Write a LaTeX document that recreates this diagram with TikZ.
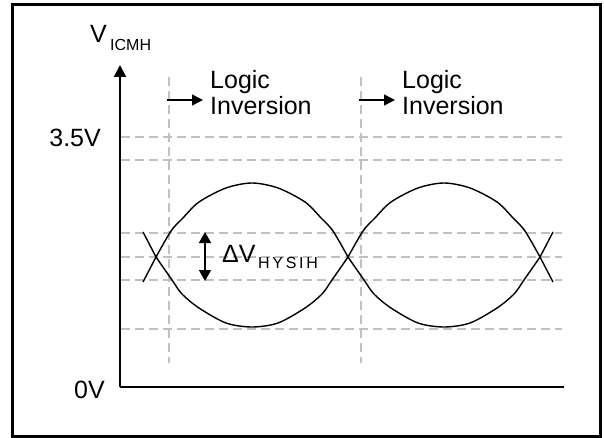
\documentclass[tikz,border=0pt]{standalone}
\usepackage{fontspec}
\setmainfont{Liberation Sans}
\usetikzlibrary{arrows.meta}
\definecolor{gridgray}{RGB}{192,192,192}
\begin{document}
\begin{tikzpicture}[x=1pt,y=-1pt,
  gridline/.style={gridgray, line width=1.6pt, dash pattern=on 9pt off 5pt},
  axisline/.style={line width=2pt},
  eyeline/.style={line width=1.4pt, line join=round},
  arr/.style={line width=1.5pt},
  lbl/.style={font=\fontsize{25}{26}\selectfont, inner sep=0pt},
  sub/.style={font=\fontsize{16}{16}\selectfont, inner sep=0pt},
]
\useasboundingbox (0,0) rectangle (604,438);
\draw[line width=3pt] (12,4.5) rectangle (600.5,436.5);

% grid
\foreach \y in {137,160,233,257,280,329} \draw[gridline] (121,\y) -- (562,\y);
\foreach \x in {169,361} \draw[gridline] (\x,77) -- (\x,363);

% axes
\coordinate (O) at (120,387);
\coordinate (ytop) at (120,65);
\coordinate (xend) at (564,387);
\draw[axisline,-{Triangle[length=12pt,width=12pt]}] (O) -- (ytop);
\draw[axisline] (O) -- (xend);

% axis labels
\node[lbl, anchor=base west] (vlab) at (90,43) {V};
\node[sub, anchor=base west] (vsub) at (110,51) {ICMH};
\node[lbl, anchor=base east] (l35) at (101,147) {3.5V};
\node[lbl, anchor=base east] (l0) at (105,398) {0V};

% logic inversion labels
\node[lbl, anchor=base west] (lg1) at (210,89) {Logic};
\node[lbl, anchor=base west] (in1) at (210,115) {Inversion};
\node[lbl, anchor=base west] (lg2) at (402,89) {Logic};
\node[lbl, anchor=base west] (in2) at (402,115) {Inversion};
\coordinate (a1s) at (167,100); \coordinate (a1e) at (203,100);
\coordinate (a2s) at (359,100); \coordinate (a2e) at (395,100);
\draw[arr,-{Triangle[length=11pt,width=11pt]}] (a1s) -- (a1e);
\draw[arr,-{Triangle[length=11pt,width=11pt]}] (a2s) -- (a2e);

% eyes
\foreach \cx in {252,444} {
  \draw[eyeline, shift={(\cx,257)}] plot[smooth, tension=0.5] coordinates
    {(-96,0) (-81,-26) (-70,-38) (-53,-55) (-26,-69) (0,-74) (26,-69) (53,-55) (70,-38) (81,-26) (96,0)};
  \draw[eyeline, shift={(\cx,257)}] plot[smooth, tension=0.5] coordinates
    {(-96,0) (-80,23) (-70,37) (-53,51) (-26,66) (0,70) (26,66) (53,51) (70,37) (80,23) (96,0)};
}
\coordinate (xl) at (156,257);
\coordinate (xr) at (540,257);
\draw[eyeline] (143,232) -- (xl) -- (143,282);
\draw[eyeline] (553,232) -- (xr) -- (553,282);

% hysteresis
\coordinate (h1) at (205,232);
\coordinate (h2) at (205,281);
\draw[arr,{Triangle[length=11pt,width=12pt]}-{Triangle[length=11pt,width=12pt]}] (h1) -- (h2);
\node[lbl, anchor=base west] (dv) at (222,262) {ΔV};
\node[sub, anchor=base west] (dvsub) at (258,268) {\addfontfeatures{LetterSpace=17}HYSIH};
\end{tikzpicture}
\end{document}
